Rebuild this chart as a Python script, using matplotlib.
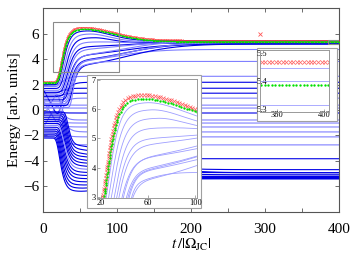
import numpy as np
import matplotlib
matplotlib.use("Agg")
import matplotlib.pyplot as plt
from matplotlib.patches import Rectangle

plt.rcParams['font.family'] = ['Liberation Serif', 'DejaVu Serif']
plt.rcParams['mathtext.fontset'] = 'stix'

# ---------------- data (levels) ----------------
t = np.linspace(0, 405, 4051)

# upper fan: index 0 = red-x curve, index 1 = green-dot curve
up_e0    = [2.20, 2.15, 2.00, 1.85, 1.70, 1.55, 1.40, 1.25, 1.10, 0.95, 0.80, 0.65, 0.50, 0.35, 0.20]
up_final = [5.47, 5.385, 5.446, 5.40, 5.315, 5.25, 5.315, 5.40, 5.20, 5.446, 5.25, 5.315, 4.77, 5.20, 3.83]
up_t0    = [24.5, 25, 26.5, 28, 29.5, 31, 32, 33, 34, 35, 36, 37, 38, 39, 40]
up_w     = [5.3, 5.3, 5.6, 6.0, 6.3, 6.3, 6.3, 6.3, 6.3, 6.0, 5.6, 5.3, 5.0, 5.0, 3.5]
up_K     = [1.05, 1.0, 0.8, 0.6, 0.39, 0.12, -0.3, -0.6, -0.85, -1.1, -1.3, -1.42, -0.9, -1.65, -0.3]
up_tp    = [50, 52, 58, 62, 68, 80, 50, 45, 42, 40, 40, 40, 40, 40, 45]
up_s     = [63, 62, 46, 38, 32, 40, 80, 85, 90, 92, 95, 96, 80, 100, 25]
up_dark  = [0, 0, 1, 0, 1, 0, 1, 0, 1, 0, 1, 0, 0, 1, 0]

# lower fan
lo_e0    = [-2.2, -2.1, -1.95, -1.8, -1.65, -1.5, -1.35, -1.2, -1.05, -0.9, -0.75, -0.6, -0.45, -0.3, -0.15]
lo_final = [-5.40, -5.30, -5.40, -5.24, -5.30, -5.24, -5.35, -5.10, -5.24, -4.93, -5.40, -4.69, -5.10, -4.93, -3.83]
lo_t0    = [22, 22.8, 23.6, 24.4, 25.2, 26, 26.8, 27.6, 28.4, 29.2, 30, 30.8, 31.6, 32.4, 33.2]
lo_w     = [4.5, 4.5, 4.6, 4.8, 5.0, 5.0, 5.0, 5.0, 5.0, 4.8, 4.6, 4.4, 4.2, 4.0, 3.6]
lo_K     = [-1.0, -0.85, -0.5, -0.41, -0.1, 0.09, 0.45, 0.45, 0.84, 0.78, 1.5, 1.04, 1.7, 1.83, 1.03]
lo_tp    = [48, 50, 55, 60, 65, 75, 45, 45, 42, 40, 40, 40, 40, 40, 40]
lo_s     = [63, 62, 46, 38, 32, 40, 80, 85, 90, 92, 95, 96, 90, 100, 70]
lo_dark  = [1, 1, 1, 1, 1, 1, 1, 0, 1, 1, 1, 1, 1, 1, 1]

# middle fan
mid_e0    = [1.95, 1.65, 1.35, 1.05, 0.75, 0.45, 0.15, -0.15, -0.45, -0.75, -1.05, -1.35, -1.65, -1.95]
mid_e20   = [1.95, -0.60, 1.35, 1.05, -1.20, 0.45, 0.15, -0.15, 1.50, -0.75, -1.05, 0.60, -1.65, -1.95]
mid_final = [2.66, 2.19, 1.72, 1.33, 0.94, 0.39, 0.16, -0.23, -0.78, -1.02, -1.33, -1.72, -2.11, -2.74]
mid_t0    = [25, 24.5, 24, 23.5, 23, 22.5, 22.5, 22.5, 22.5, 23, 23.5, 24, 24.5, 25]
mid_w     = [6, 6, 5.5, 5, 4.5, 4, 4, 4, 4, 4.5, 5, 5.5, 6, 6]
mid_dark  = [0, 1, 1, 1, 0, 0, 0, 1, 0, 0, 0, 0, 0, 0]

stray_t = [293]
stray_e = [6.0]


def level(e0, e20, F, t0, w, K, tp, s):
    base = e0 + (e20 - e0) * np.clip(t / 20.0, 0, 1)
    R = np.exp(-np.exp(-(t - t0) / w))
    G = K * np.exp(-(np.clip(t - tp, 0, None) / s) ** 2)
    return base + R * (F + G - base)


up_curves = [level(up_e0[i], up_e0[i], up_final[i], up_t0[i], up_w[i], up_K[i], up_tp[i], up_s[i])
             for i in range(len(up_e0))]
lo_curves = [level(lo_e0[i], lo_e0[i], lo_final[i], lo_t0[i], lo_w[i], lo_K[i], lo_tp[i], lo_s[i])
             for i in range(len(lo_e0))]
mid_curves = [level(mid_e0[i], mid_e20[i], mid_final[i], mid_t0[i], mid_w[i], 0.0, 0, 1)
              for i in range(len(mid_e0))]

DARK = (0.0, 0.0, 0.9)
LIGHT = (0.5, 0.5, 1.0)
INS = (0.62, 0.62, 1.0)
RED = '#ff2a2a'
GREEN = '#00e000'

# ---------------- figure ----------------
fig = plt.figure(figsize=(3.52, 2.57), dpi=100)
ax = fig.add_axes([0.123, 0.1763, 0.840, 0.7907])
ax.set_zorder(0)

for grp, dark in ((mid_curves, mid_dark), (lo_curves, lo_dark), (up_curves[2:], up_dark[2:])):
    for c, d in zip(grp, dark):
        ax.plot(t, c, color=DARK if d else LIGHT, lw=0.8, zorder=2)
ax.plot(t, up_curves[0], color=RED, lw=0.6, alpha=0.6, marker='x', ms=1.8, mew=0.5,
        markevery=0.004, zorder=3)
ax.plot(t, up_curves[1], color=GREEN, lw=0.6, marker='o', ms=1.1, mew=0,
        markevery=0.004, zorder=3)
ax.plot(stray_t, stray_e, ls='none', marker='x', ms=2.2, mew=0.6, color=RED, alpha=0.8)

ax.set_xlim(0, 400)
ax.set_ylim(-8, 8)
ax.set_xticks([0, 100, 200, 300, 400])
ax.set_xticks([50, 150, 250, 350], minor=True)
ax.set_yticks([-6, -4, -2, 0, 2, 4, 6])
ax.tick_params(which='both', direction='in', top=True, right=True, length=3, width=0.6,
               color='#555555', labelsize=11)
ax.tick_params(axis='x', pad=8)
ax.tick_params(axis='y', pad=3)
ax.set_yticklabels(['\u22126', '\u22124', '\u22122', '0', '2', '4', '6'])
for sp in ax.spines.values():
    sp.set_color('#555555')
    sp.set_linewidth(0.8)
ax.set_ylabel('Energy [arb. units]', fontsize=11, labelpad=1)
ax.set_xlabel(r'$t\,/|\Omega_{\rm JC}|$', fontsize=11, labelpad=1)

# indicator rectangles
ax.add_patch(Rectangle((12.5, 3.0), 89.5, 3.95, fill=False, ec='#8a8a8a', lw=0.8, zorder=4))
ax.add_patch(Rectangle((385, 5.24), 15, 0.31, fill=False, ec='#8a8a8a', lw=0.8, zorder=4))

# outer white boxes of the insets
fig.add_artist(Rectangle((0.2472, 0.1907), 0.3239, 0.5175, transform=fig.transFigure,
                         fc='white', ec='#a0a0a0', lw=0.8, zorder=3))
fig.add_artist(Rectangle((0.7301, 0.5292), 0.2273, 0.2840, transform=fig.transFigure,
                         fc='white', ec='#a0a0a0', lw=0.8, zorder=3))

# inset 1
a1 = fig.add_axes([0.2756, 0.2296, 0.2841, 0.4630])
a1.set_zorder(5)
for c in up_curves[2:]:
    a1.plot(t, c, color=INS, lw=0.6)
a1.plot(t, up_curves[0], ls='none', color=RED, alpha=0.7, marker='x', ms=2.3, mew=0.55,
        markevery=0.018)
a1.plot(t, up_curves[1], ls='none', color=GREEN, marker='o', ms=1.7, mew=0,
        markevery=0.018)
a1.set_xlim(16.5, 101.5)
a1.set_ylim(2.95, 7.05)
a1.set_xticks([20, 60, 100])
a1.set_yticks([3, 4, 5, 6, 7])

# inset 2
a2 = fig.add_axes([0.7386, 0.5642, 0.1960, 0.2412])
a2.set_zorder(5)
for i in (2, 3, 4):
    a2.plot(t, up_curves[i], color=INS, lw=0.6)
a2.plot(t, up_curves[0], ls='none', color=RED, alpha=0.7, marker='x', ms=2.3, mew=0.55,
        markevery=0.038)
a2.plot(t, up_curves[1], ls='none', color=GREEN, marker='o', ms=1.7, mew=0,
        markevery=0.038)
a2.set_xlim(373, 402)
a2.set_ylim(5.288, 5.512)
a2.set_xticks([380, 400])
a2.set_yticks([5.3, 5.4, 5.5])

for a in (a1, a2):
    a.tick_params(which='both', direction='in', length=2, width=0.5, color='#888888',
                  labelsize=6)
    for sp in a.spines.values():
        sp.set_color('#999999')
        sp.set_linewidth(0.7)
a1.tick_params(axis='both', pad=1)
a2.tick_params(axis='y', pad=-5)
a2.tick_params(axis='x', pad=-1)

fig.savefig('out.png', dpi=100)
